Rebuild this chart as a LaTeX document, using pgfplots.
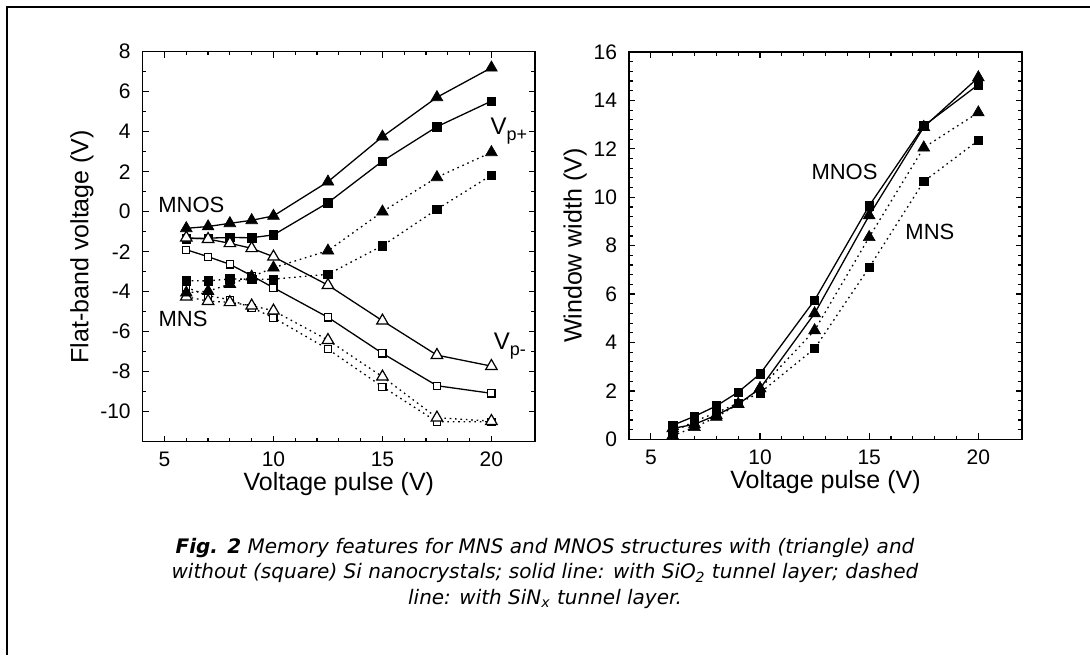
\documentclass[border=0pt]{standalone}
\usepackage{fontspec}
\setmainfont{Liberation Sans}
\newfontfamily\capfont{DejaVu Sans}[ItalicFont={DejaVu Sans Oblique},BoldItalicFont={DejaVu Sans Bold Oblique}]
\usepackage{pgfplots}
\pgfplotsset{compat=1.18}
\pgfplotsset{
  myaxis/.style={
    scale only axis,
    axis line style={line width=0.75pt},
    every tick/.style={black,line width=0.6pt},
    tick align=inside,
    major tick length=3pt, minor tick length=1.8pt,
    xmin=4, xmax=22,
    xtick={5,10,15,20}, xticklabels={5,10,15,20},
    minor x tick num=4,
    tick label style={font=\fontsize{10.5}{12}\selectfont},
    xticklabel style={inner sep=1.5pt},
    label style={font=\fontsize{12.5}{14}\selectfont,inner sep=1pt},
    xticklabel shift=3.5pt,
    yticklabel shift=2.5pt,
    xlabel={Voltage pulse (V)},
    clip=false,
  },
  solidl/.style={black,line width=0.65pt},
  dotl/.style={black,line width=0.65pt,dash pattern=on 0.8pt off 1.9pt},
  ftri/.style={mark=triangle*,mark size=3.4pt,mark options={solid,fill=black,line width=0.3pt}},
  fsq/.style={mark=square*,mark size=2.1pt,mark options={solid,fill=black,line width=0.3pt}},
  otri/.style={mark=triangle*,mark size=3.3pt,mark options={solid,fill=white,draw=black,line width=0.6pt}},
  osq/.style={mark=square*,mark size=1.8pt,mark options={solid,fill=white,draw=black,line width=0.6pt}},
}
\begin{document}
\begin{tikzpicture}
\path[use as bounding box] (0,0) rectangle (545pt,-327.5pt);
\draw[line width=1.2pt] (3.5pt,-327.5pt) -- (3.5pt,-3.5pt) -- (545pt,-3.5pt);

% Left plot
\begin{axis}[myaxis,
  at={(71.35pt,-220.85pt)}, anchor=south west,
  width=196.15pt, height=195pt,
  ymin=-11.5, ymax=8,
  ytick={-10,-8,-6,-4,-2,0,2,4,6,8},
  yticklabels={-10,-8,-6,-4,-2,0,2,4,6,8},
  minor y tick num=1,
  ylabel={Flat-band voltage (V)},
  xlabel style={at={(axis description cs:0.5,-0.108)},anchor=center},
  ylabel style={at={(axis description cs:-0.155,0.5)},anchor=center},
]
\addplot[dotl,osq] coordinates {(6,-3.78)(7,-4.2)(8,-4.4)(9,-4.8)(10,-5.3)(12.5,-6.87)(15,-8.75)(17.5,-10.5)(20,-10.5)};
\addplot[dotl,otri] coordinates {(6,-4.25)(7,-4.47)(8,-4.53)(9,-4.7)(10,-4.95)(12.5,-6.42)(15,-8.25)(17.5,-10.3)(20,-10.47)};
\addplot[solidl,osq] coordinates {(6,-1.9)(7,-2.25)(8,-2.63)(9,-3.2)(10,-3.8)(12.5,-5.28)(15,-7.08)(17.5,-8.7)(20,-9.08)};
\addplot[dotl,fsq] coordinates {(6,-3.45)(7,-3.46)(8,-3.36)(9,-3.38)(10,-3.37)(12.5,-3.13)(15,-1.7)(17.5,0.12)(20,1.83)};
\addplot[dotl,ftri] coordinates {(6,-4.05)(7,-3.97)(8,-3.62)(9,-3.25)(10,-2.8)(12.5,-1.95)(15,0)(17.5,1.72)(20,2.97)};
\addplot[solidl,fsq] coordinates {(6,-1.35)(7,-1.32)(8,-1.29)(9,-1.3)(10,-1.16)(12.5,0.45)(15,2.53)(17.5,4.25)(20,5.53)};
\addplot[solidl,otri] coordinates {(6,-1.3)(7,-1.37)(8,-1.58)(9,-1.83)(10,-2.25)(12.5,-3.67)(15,-5.45)(17.5,-7.17)(20,-7.72)};
\addplot[solidl,ftri] coordinates {(6,-0.83)(7,-0.74)(8,-0.58)(9,-0.43)(10,-0.21)(12.5,1.5)(15,3.75)(17.5,5.72)(20,7.2)};
\node[font=\fontsize{11}{13}\selectfont] at (axis cs:6.23,0.34) {MNOS};
\node[font=\fontsize{11}{13}\selectfont] at (axis cs:5.85,-5.36) {MNS};
\node[font=\fontsize{12}{14}\selectfont,anchor=west,inner sep=0pt] at (axis cs:19.94,4.03) {V\raisebox{-0.4ex}{\fontsize{9}{10}\selectfont p+}};
\node[font=\fontsize{12}{14}\selectfont,anchor=west,inner sep=0pt] at (axis cs:20.09,-6.72) {V\raisebox{-0.4ex}{\fontsize{9}{10}\selectfont p-}};
\end{axis}

% Right plot
\begin{axis}[myaxis,
  at={(314.5pt,-219.65pt)}, anchor=south west,
  width=196.5pt, height=193.65pt,
  ymin=0, ymax=16,
  ytick={0,2,4,6,8,10,12,14,16},
  yticklabels={0,2,4,6,8,10,12,14,16},
  minor y tick num=4,
  ylabel={Window width (V)},
  xlabel style={at={(axis description cs:0.5,-0.11)},anchor=center},
  ylabel style={at={(axis description cs:-0.137,0.5)},anchor=center},
]
\addplot[dotl,fsq] coordinates {(6,0.3)(7,0.75)(8,1.1)(9,1.5)(10,1.92)(12.5,3.75)(15,7.1)(17.5,10.65)(20,12.35)};
\addplot[dotl,ftri] coordinates {(6,0.15)(7,0.5)(8,0.92)(9,1.45)(10,2.1)(12.5,4.5)(15,8.35)(17.5,12.05)(20,13.5)};
\addplot[solidl,fsq] coordinates {(6,0.58)(7,0.95)(8,1.38)(9,1.95)(10,2.7)(12.5,5.75)(15,9.65)(17.5,12.95)(20,14.65)};
\addplot[solidl,ftri] coordinates {(6,0.45)(7,0.62)(8,1.0)(9,1.45)(10,2.1)(12.5,5.2)(15,9.25)(17.5,12.9)(20,14.95)};
\node[font=\fontsize{11}{13}\selectfont] at (axis cs:13.87,11.06) {MNOS};
\node[font=\fontsize{11}{13}\selectfont] at (axis cs:17.78,8.57) {MNS};
\end{axis}

\node[align=center,font=\capfont\itshape\fontsize{10}{12.75}\selectfont] at (272.5pt,-286.5pt)
{\textbf{Fig. 2} Memory features for MNS and MNOS structures with (triangle) and\\
without (square) Si nanocrystals; solid line: with SiO\textsubscript{2} tunnel layer; dashed\\
line: with SiN\textsubscript{x} tunnel layer.};
\end{tikzpicture}
\end{document}
